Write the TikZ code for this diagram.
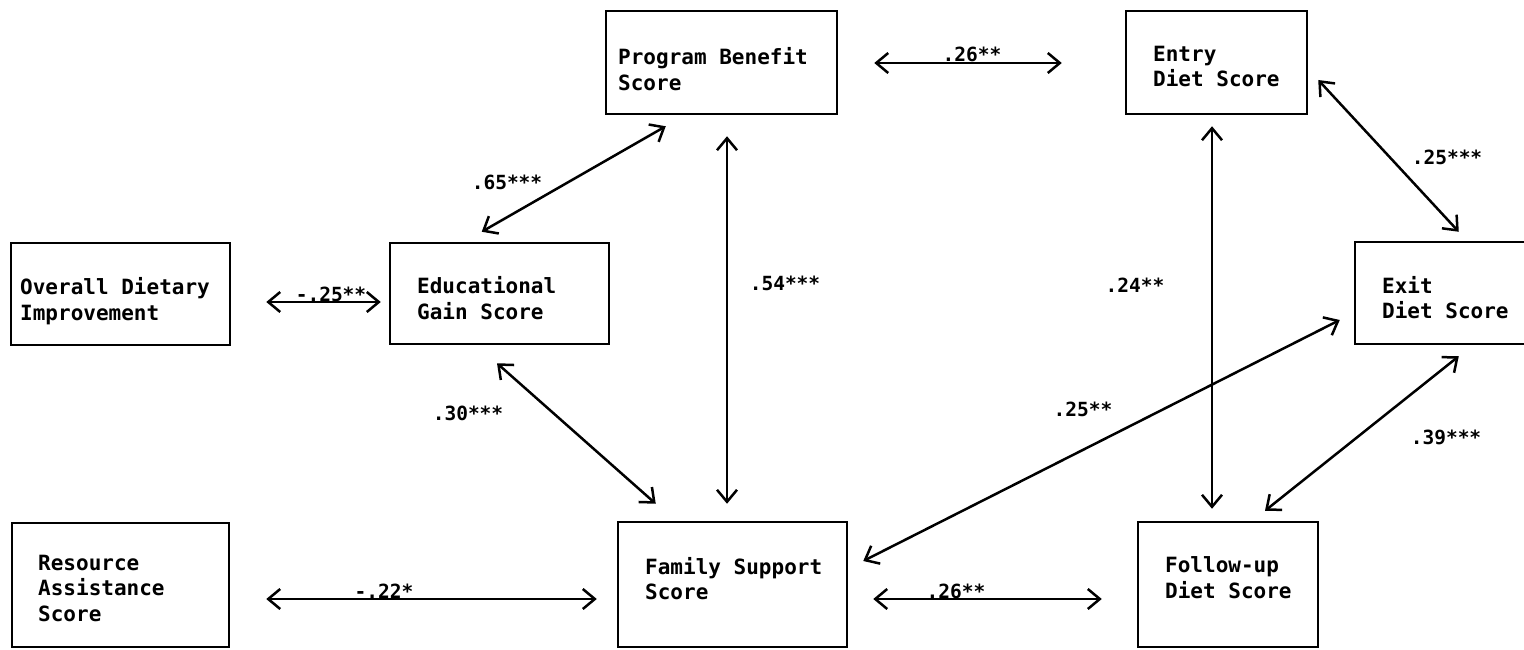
\documentclass[tikz,border=0pt]{standalone}
\usepackage{fontspec}
\setmonofont{DejaVu Sans Mono}
\usetikzlibrary{arrows.meta,calc}
\tikzset{
  box/.style={draw, line width=2.5pt, rectangle, inner sep=0pt},
  txt/.style={font=\ttfamily\bfseries\fontsize{21}{25.5}\selectfont, align=left, inner sep=0pt, anchor=west},
  coef/.style={font=\ttfamily\bfseries\fontsize{19.5}{23}\selectfont, inner sep=0pt},
  conn/.style={line width=2.5pt, {Straight Barb[length=12pt,width=20pt,line width=2.5pt]}-{Straight Barb[length=12pt,width=20pt,line width=2.5pt]}}
}
\begin{document}
\begin{tikzpicture}[x=1pt,y=-1pt]
\useasboundingbox (0,0) rectangle (1524,650);
% boxes
\node[box, minimum width=219, minimum height=102] (over) at (120.5,294) {};
\node[box, minimum width=219, minimum height=101] (edu) at (499.5,293.5) {};
\node[box, minimum width=231, minimum height=103] (prog) at (721.5,62.5) {};
\node[box, minimum width=181, minimum height=103] (entry) at (1216.5,62.5) {};
\node[box, minimum width=175, minimum height=102] (exit) at (1442.5,293) {};
\node[box, minimum width=217, minimum height=124] (res) at (120.5,585) {};
\node[box, minimum width=229, minimum height=125] (fam) at (732.5,584.5) {};
\node[box, minimum width=180, minimum height=125] (fol) at (1228,584.5) {};
% texts
\node[txt] (t-over) at (20,301) {Overall Dietary\\Improvement};
\node[txt] (t-edu) at (417,298) {Educational\\Gain Score};
\node[txt] (t-prog) at (618,69) {Program Benefit\\Score};
\node[txt] (t-entry) at (1153,66.5) {Entry\\Diet Score};
\node[txt] (t-exit) at (1382,297.5) {Exit\\Diet Score};
\node[txt] (t-res) at (38,588) {Resource\\Assistance\\Score};
\node[txt] (t-fam) at (645,578.5) {Family Support\\Score};
\node[txt] (t-fol) at (1165,577.5) {Follow-up\\Diet Score};
% connectors
\draw[conn] ($(over.east)+(35,8)$) -- ($(edu.west)+(-8,8.5)$);
\draw[conn] ($(prog.east)+(36,0.5)$) -- ($(entry.west)+(-63,0.5)$);
\draw[conn] ($(prog.south west)+(61,11)$) -- ($(edu.north west)+(93,-10)$);
\draw[conn] ($(prog.south)+(5.5,21)$) -- ($(fam.north)+(-5.5,-17)$);
\draw[conn] ($(edu.south)+(-2.5,18)$) -- ($(fam.north west)+(39,-17)$);
\draw[conn] ($(res.east)+(36,14)$) -- ($(fam.west)+(-20,14.5)$);
\draw[conn] ($(fam.east)+(25,14.5)$) -- ($(fol.west)+(-35,14.5)$);
\draw[conn] ($(fam.east)+(15,-23.5)$) -- ($(exit.west)+(-14,27)$);
\draw[conn] ($(entry.south)+(-4.5,11)$) -- ($(fol.north)+(-16,-12)$);
\draw[conn] ($(entry.east)+(10,17.5)$) -- ($(exit.north west)+(105,-9)$);
\draw[conn] ($(fol.north)+(37,-10)$) -- ($(exit.south west)+(105,11)$);
% coefficients
\node[coef, anchor=base] (c1) at (331,301) {-.25**};
\node[coef, anchor=base] (c2) at (972,62) {.26**};
\node[coef, anchor=base] (c3) at (384,598) {-.22*};
\node[coef, anchor=base] (c4) at (956,598) {.26**};
\node[coef] (c5) at (507,182) {.65***};
\node[coef] (c6) at (468,413) {.30***};
\node[coef] (c7) at (785,283) {.54***};
\node[coef] (c8) at (1135,285) {.24**};
\node[coef] (c9) at (1447,157) {.25***};
\node[coef] (c10) at (1083,409) {.25**};
\node[coef] (c11) at (1446,437) {.39***};
\end{tikzpicture}
\end{document}
